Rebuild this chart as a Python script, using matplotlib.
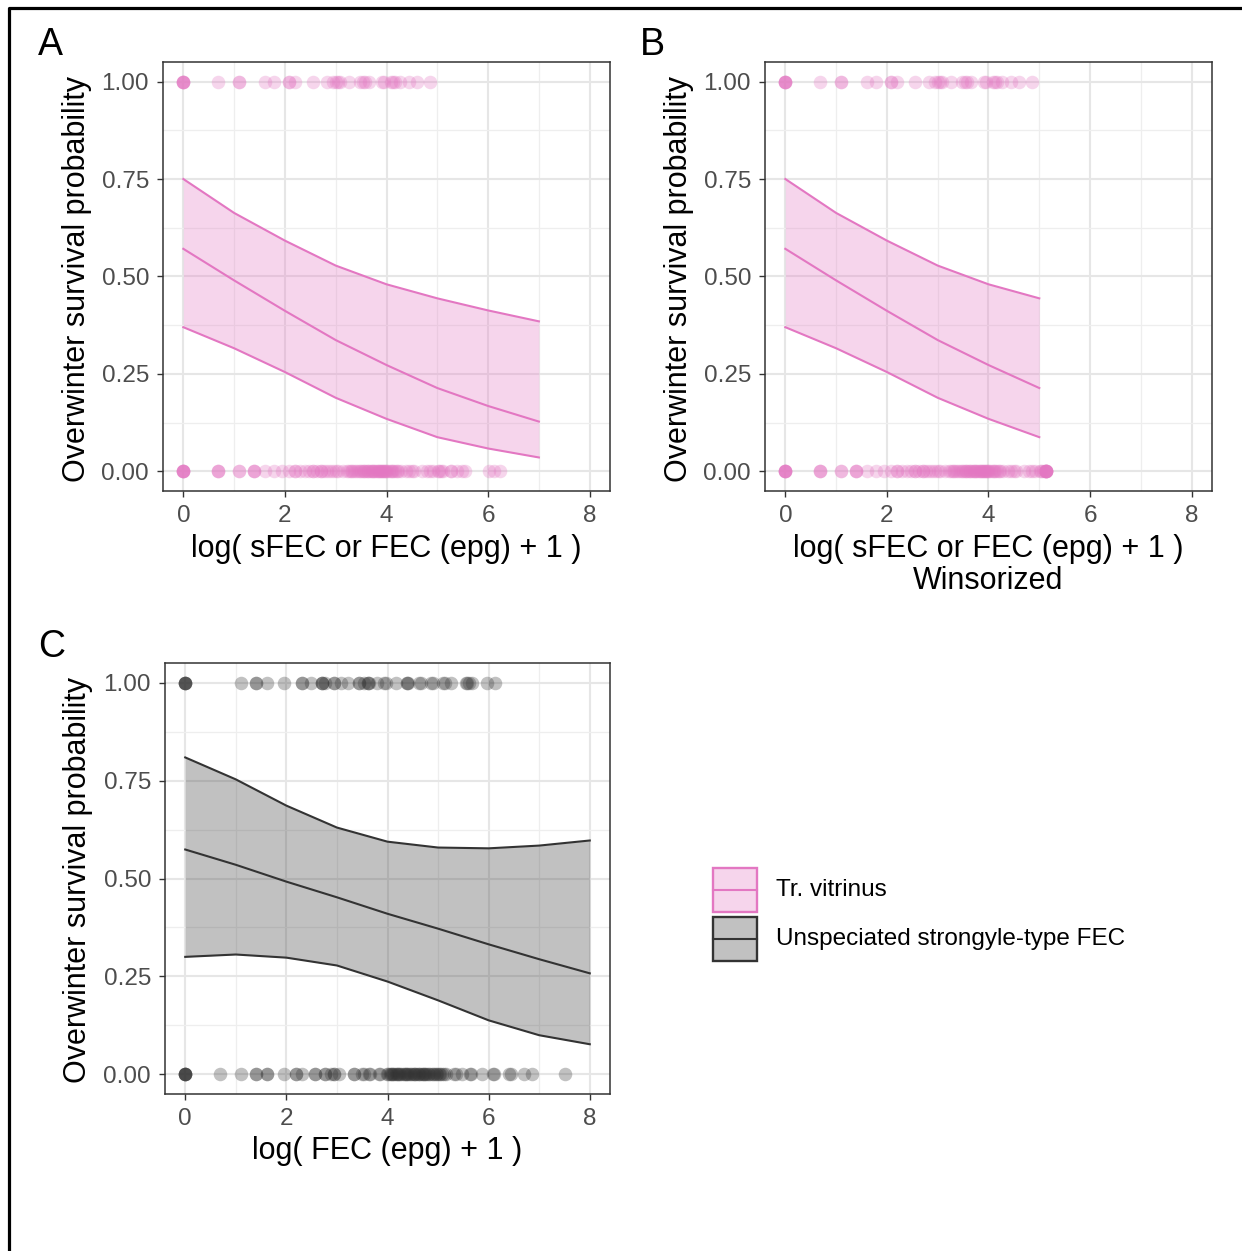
import numpy as np
import matplotlib
matplotlib.use("Agg")
import matplotlib.pyplot as plt
from matplotlib.patches import Rectangle

plt.rcParams['font.family'] = ['Liberation Sans', 'DejaVu Sans']

# ---- data ----
fec_grid = [0, 1, 2, 3, 4, 5, 6, 7]
tv_fit = [0.571, 0.490, 0.412, 0.337, 0.273, 0.214, 0.168, 0.128]
tv_upper = [0.750, 0.663, 0.592, 0.528, 0.480, 0.444, 0.413, 0.385]
tv_lower = [0.370, 0.316, 0.255, 0.189, 0.135, 0.088, 0.059, 0.036]

wins_grid = [0, 1, 2, 3, 4, 5]
wins_fit = [0.571, 0.490, 0.412, 0.337, 0.273, 0.214]
wins_upper = [0.750, 0.663, 0.592, 0.528, 0.480, 0.444]
wins_lower = [0.370, 0.316, 0.255, 0.189, 0.135, 0.088]
wins_cap = 5.13

str_grid = [0, 1, 2, 3, 4, 5, 6, 7, 8]
str_fit = [0.574, 0.535, 0.492, 0.452, 0.410, 0.372, 0.332, 0.294, 0.258]
str_upper = [0.809, 0.753, 0.686, 0.630, 0.594, 0.579, 0.577, 0.584, 0.597]
str_lower = [0.300, 0.306, 0.298, 0.278, 0.237, 0.189, 0.138, 0.100, 0.077]

# sFEC / FEC (log scale) of animals that survived (1) or died (0)
tv_survived = [0, 0, 0, 0, 0, 0.69, 1.10, 1.10, 1.61, 1.79, 2.08, 2.08, 2.20,
               2.56, 2.83, 2.94, 3.00, 3.04, 3.09, 3.26, 3.47, 3.53, 3.58,
               3.66, 3.91, 3.95, 4.08, 4.13, 4.17, 4.26, 4.44, 4.60, 4.86]
tv_died = [0, 0, 0, 0, 0, 0, 0.69, 0.69, 0.69, 1.10, 1.10, 1.39, 1.39, 1.39,
           1.61, 1.79, 1.95, 2.08, 2.20, 2.20, 2.30, 2.40, 2.48, 2.56, 2.56,
           2.64, 2.71, 2.71, 2.77, 2.83, 2.89, 2.94, 3.00, 3.04, 3.14, 3.22,
           3.26, 3.30, 3.33, 3.37, 3.40, 3.43, 3.47, 3.50, 3.53, 3.56, 3.58,
           3.61, 3.64, 3.66, 3.69, 3.71, 3.74, 3.76, 3.78, 3.81, 3.83, 3.85,
           3.87, 3.89, 3.91, 3.93, 3.95, 3.97, 3.99, 4.01, 4.04, 4.08, 4.11,
           4.13, 4.17, 4.20, 4.23, 4.29, 4.38, 4.44, 4.50, 4.55, 4.70, 4.79,
           4.86, 4.92, 5.01, 5.03, 5.08, 5.12, 5.26, 5.26, 5.38, 5.48, 5.55,
           6.01, 6.11, 6.24]

str_survived = [0, 0, 0, 0, 0, 1.10, 1.39, 1.39, 1.61, 1.95, 2.30, 2.30, 2.48,
                2.71, 2.71, 2.71, 2.77, 2.94, 2.94, 3.09, 3.22, 3.43, 3.43,
                3.53, 3.61, 3.61, 3.64, 3.80, 3.93, 3.97, 4.17, 4.38, 4.38,
                4.41, 4.62, 4.66, 4.87, 4.90, 5.09, 5.13, 5.25, 5.55, 5.58,
                5.62, 5.67, 5.96, 6.13]
str_died = [0, 0, 0, 0, 0, 0, 0.69, 1.10, 1.39, 1.39, 1.61, 1.61, 1.95, 2.20,
            2.20, 2.30, 2.56, 2.56, 2.77, 2.77, 2.89, 2.94, 2.94, 3.04, 3.33,
            3.33, 3.50, 3.53, 3.64, 3.66, 3.83, 3.85, 3.99, 4.01, 4.04, 4.06,
            4.08, 4.11, 4.13, 4.17, 4.19, 4.20, 4.23, 4.25, 4.29, 4.32, 4.34,
            4.37, 4.39, 4.41, 4.44, 4.47, 4.50, 4.52, 4.55, 4.57, 4.60, 4.62,
            4.65, 4.68, 4.70, 4.72, 4.75, 4.77, 4.80, 4.83, 4.86, 4.89, 4.92,
            4.95, 4.98, 5.01, 5.04, 5.08, 5.12, 5.16, 5.31, 5.35, 5.47, 5.64,
            5.66, 5.87, 6.09, 6.11, 6.40, 6.44, 6.69, 6.85, 7.51]

legend_labels = ["Tr. vitrinus", "Unspeciated strongyle-type FEC"]

PINK = "#E377C2"
DARK = "#333333"
W, H = 1242, 1251
TITLE_FS = 22

fig = plt.figure(figsize=(W / 100, H / 100), dpi=100)


def panel(rect, grid, fit, lo, hi, surv, died, col):
    ax = fig.add_axes(rect)
    ax.fill_between(grid, lo, hi, color=col, alpha=0.3, lw=0, zorder=2)
    ax.plot(grid, hi, color=col, lw=1.5, zorder=3)
    ax.plot(grid, lo, color=col, lw=1.5, zorder=3)
    ax.plot(grid, fit, color=col, lw=1.5, zorder=3)
    ax.scatter(surv, np.ones(len(surv)), s=95, color=col, alpha=0.3,
               lw=0, zorder=4)
    ax.scatter(died, np.zeros(len(died)), s=95, color=col, alpha=0.3,
               lw=0, zorder=4)
    ax.set_xlim(-0.4, 8.4)
    ax.set_ylim(-0.05, 1.05)
    ax.set_xticks([0, 2, 4, 6, 8])
    ax.set_xticks([1, 3, 5, 7], minor=True)
    ax.set_yticks([0, 0.25, 0.5, 0.75, 1.0])
    ax.set_yticklabels(["0.00", "0.25", "0.50", "0.75", "1.00"])
    ax.set_yticks([0.125, 0.375, 0.625, 0.875], minor=True)
    ax.grid(which='major', color='#E6E6E6', lw=1.5, zorder=0)
    ax.grid(which='minor', color='#EEEEEE', lw=0.9, zorder=0)
    ax.set_axisbelow(True)
    ax.tick_params(which='major', length=4, width=1, color=DARK,
                   labelsize=17.5, labelcolor='#4D4D4D', pad=6)
    ax.tick_params(axis='x', which='major', pad=6)
    ax.tick_params(which='minor', length=0)
    for s in ax.spines.values():
        s.set_color(DARK)
        s.set_linewidth(1.1)
    return ax


axA = panel([163 / W, 1 - 491 / H, 447 / W, 429 / H], fec_grid, tv_fit,
            tv_lower, tv_upper, tv_survived, tv_died, PINK)
axB = panel([765 / W, 1 - 491 / H, 447 / W, 429 / H], wins_grid, wins_fit,
            wins_lower, wins_upper,
            np.minimum(tv_survived, wins_cap), np.minimum(tv_died, wins_cap),
            PINK)
axC = panel([165 / W, 1 - 1094 / H, 445 / W, 431 / H], str_grid, str_fit,
            str_lower, str_upper, str_survived, str_died, DARK)

ylab = "Overwinter survival probability"
for xp, yp in [(77, 279), (679, 279), (78, 880)]:
    fig.text(xp / W, 1 - yp / H, ylab, rotation=90, ha='center', va='center',
             fontsize=TITLE_FS)

xlab = "log( sFEC or FEC (epg) + 1 )"
fig.text(386 / W, 1 - 549 / H, xlab, ha='center', va='center', fontsize=TITLE_FS)
fig.text(988 / W, 1 - 549 / H, xlab, ha='center', va='center', fontsize=TITLE_FS)
fig.text(988 / W, 1 - 581 / H, "Winsorized", ha='center', va='center',
         fontsize=TITLE_FS)
fig.text(387 / W, 1 - 1151 / H, "log( FEC (epg) + 1 )", ha='center',
         va='center', fontsize=TITLE_FS)

fig.text(50 / W, 1 - 45 / H, "A", ha='center', va='center', fontsize=27)
fig.text(652 / W, 1 - 45 / H, "B", ha='center', va='center', fontsize=27)
fig.text(52 / W, 1 - 647 / H, "C", ha='center', va='center', fontsize=27)

# overlay in pixel coordinates for legend and frame
ov = fig.add_axes([0, 0, 1, 1], zorder=-1)
ov.set_xlim(0, W)
ov.set_ylim(H, 0)
ov.axis('off')
ov.plot([9, 9, W], [H, 8, 8], color='black', lw=2.3, solid_capstyle='butt')

for i, (lab, col) in enumerate(zip(legend_labels, [PINK, DARK])):
    y0 = 868 + i * 49
    ov.add_patch(Rectangle((713, y0), 44, 44, facecolor=col, alpha=0.3, lw=0))
    ov.add_patch(Rectangle((713, y0), 44, 44, facecolor='none',
                           edgecolor=col, lw=1.7))
    ov.plot([713, 757], [y0 + 22, y0 + 22], color=col, lw=1.5)
    ov.text(776, y0 + 22, lab, ha='left', va='center', fontsize=17.5)

fig.savefig("out.png", dpi=100)
